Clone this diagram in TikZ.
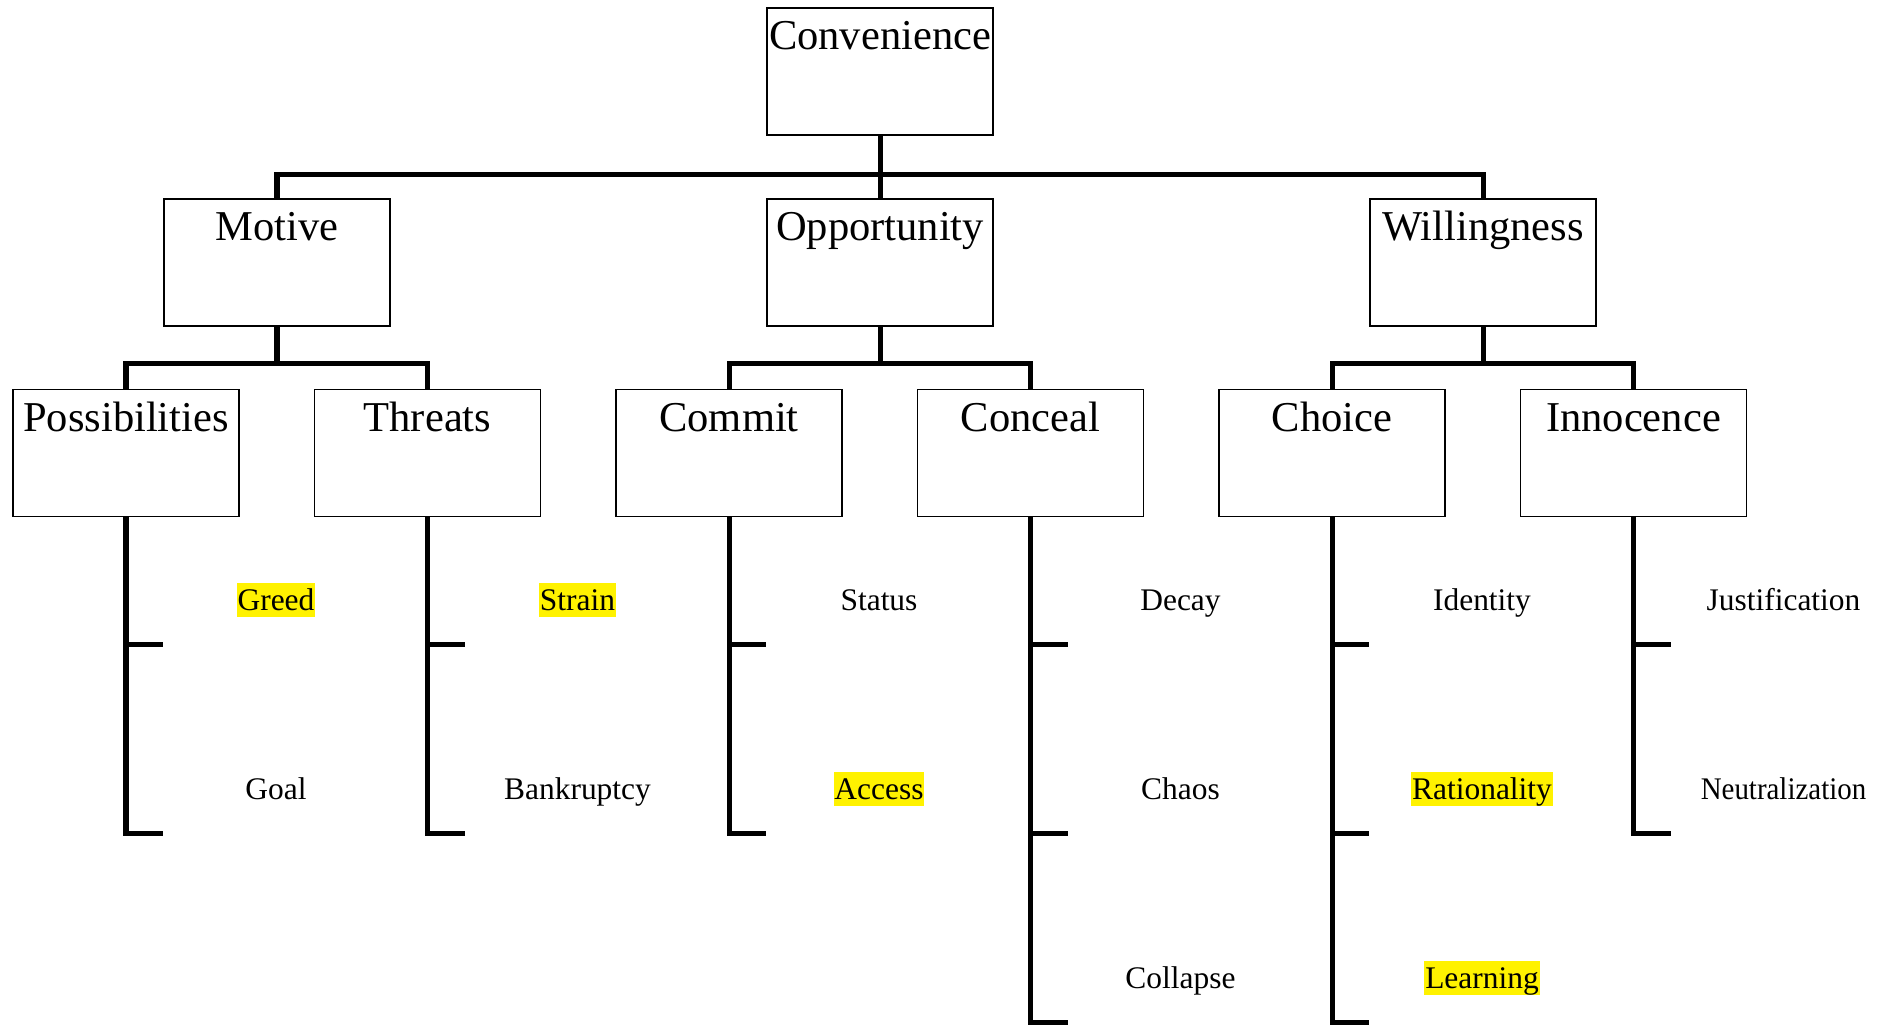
\documentclass[tikz,border=0pt]{standalone}
\usepackage{fontspec}
\setmainfont{Liberation Serif}
\begin{document}
\begin{tikzpicture}[x=0.02cm,y=-0.02cm,
  box/.style={draw, line width=1pt, minimum width=4.52cm, minimum height=2.54cm,
    inner sep=0pt, text height=0.83cm, text depth=1.71cm,
    font=\fontsize{24.2pt}{29pt}\selectfont},
  conn/.style={line width=2.85pt},
  lab/.style={font=\fontsize{17.9pt}{21pt}\selectfont, inner xsep=0.5pt, inner ysep=0pt,
    text height=0.56cm, text depth=0.14cm, anchor=base},
  hl/.style={lab, fill=yellow}]
\useasboundingbox (0,0) rectangle (1891,1026);

% boxes
\node[box] (conv) at (880,71.5) {Convenience};
\node[box] (mot) at (277,262.5) {Motive};
\node[box] (opp) at (880,262.5) {Opportunity};
\node[box] (wil) at (1483,262.5) {Willingness};
\node[box] (pos) at (126,453) {Possibilities};
\node[box] (thr) at (427.5,453) {Threats};
\node[box] (com) at (729,453) {Commit};
\node[box] (con) at (1030.5,453) {Conceal};
\node[box] (cho) at (1332,453) {Choice};
\node[box] (inn) at (1633.5,453) {Innocence};

% tree connectors
\coordinate (j0) at (880,175);
\draw[conn] (conv.south) -- (j0) -- (opp.north);
\draw[conn] (mot.north) |- (wil.north |- j0) -- (wil.north);

\coordinate (j1) at (277,364);
\draw[conn] (mot.south) -- (j1);
\draw[conn] (pos.north) |- (thr.north |- j1) -- (thr.north);
\coordinate (j2) at (880,364);
\draw[conn] (opp.south) -- (j2);
\draw[conn] (com.north) |- (con.north |- j2) -- (con.north);
\coordinate (j3) at (1483,364);
\draw[conn] (wil.south) -- (j3);
\draw[conn] (cho.north) |- (inn.north |- j3) -- (inn.north);

% trunks with ticks
\foreach \b in {pos,thr,com,inn}{
  \draw[conn] (\b.south) -- ++(0,316) -- ++(37,0);
  \draw[conn] (\b.south) ++(0,127) -- ++(37,0);
}
\foreach \b in {con,cho}{
  \draw[conn] (\b.south) -- ++(0,505) -- ++(37,0);
  \draw[conn] (\b.south) ++(0,127) -- ++(37,0);
  \draw[conn] (\b.south) ++(0,316) -- ++(37,0);
}

% labels
\node[hl]  (greed) at (276,610.5) {Greed};
\node[lab] (goal)  at (276,799.5) {Goal};
\node[hl]  (strain) at (577.5,610.5) {Strain};
\node[lab] (bank)  at (577.5,799.5) {Bankruptcy};
\node[lab] (status) at (879,610.5) {Status};
\node[hl]  (access) at (879,799.5) {Access};
\node[lab] (decay) at (1180.5,610.5) {Decay};
\node[lab] (chaos) at (1180.5,799.5) {Chaos};
\node[lab] (coll)  at (1180.5,988.5) {Collapse};
\node[lab] (ident) at (1482,610.5) {Identity};
\node[hl]  (rat)   at (1482,799.5) {Rationality};
\node[hl]  (learn) at (1482,988.5) {Learning};
\node[lab] (just)  at (1783.5,610.5) {Justification};
\node[lab] (neut)  at (1783.5,799.5) {\scalebox{0.92}[1]{Neutralization}};
\end{tikzpicture}
\end{document}
